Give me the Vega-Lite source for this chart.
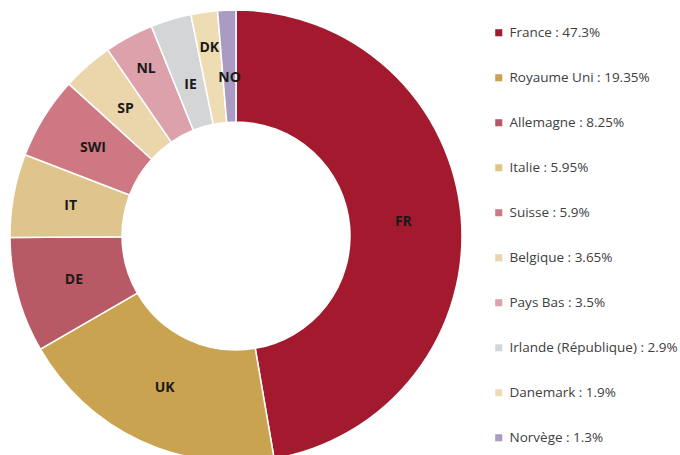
{
  "$schema": "https://vega.github.io/schema/vega-lite/v6.json",
  "width": 472,
  "height": 472,
  "autosize": {"type": "none"},
  "padding": {"left": 0, "top": 0, "right": 208, "bottom": 0},
  "background": "white",
  "config": {"view": {"stroke": null}},
  "data": {
    "values": [
      {"order": 1, "country": "France", "code": "FR", "pct": 47.3, "label": "France : 47.3%"},
      {"order": 2, "country": "Royaume Uni", "code": "UK", "pct": 19.35, "label": "Royaume Uni : 19.35%"},
      {"order": 3, "country": "Allemagne", "code": "DE", "pct": 8.25, "label": "Allemagne : 8.25%"},
      {"order": 4, "country": "Italie", "code": "IT", "pct": 5.95, "label": "Italie : 5.95%"},
      {"order": 5, "country": "Suisse", "code": "SWI", "pct": 5.9, "label": "Suisse : 5.9%"},
      {"order": 6, "country": "Belgique", "code": "SP", "pct": 3.65, "label": "Belgique : 3.65%"},
      {"order": 7, "country": "Pays Bas", "code": "NL", "pct": 3.5, "label": "Pays Bas : 3.5%"},
      {"order": 8, "country": "Irlande (République)", "code": "IE", "pct": 2.9, "label": "Irlande (République) : 2.9%"},
      {"order": 9, "country": "Danemark", "code": "DK", "pct": 1.9, "label": "Danemark : 1.9%"},
      {"order": 10, "country": "Norvège", "code": "NO", "pct": 1.3, "label": "Norvège : 1.3%"}
    ]
  },
  "encoding": {
    "theta": {"field": "pct", "type": "quantitative", "stack": true},
    "order": {"field": "order", "type": "quantitative"}
  },
  "layer": [
    {
      "mark": {"type": "arc", "outerRadius": 226, "innerRadius": 114, "stroke": "white", "strokeWidth": 1.5},
      "encoding": {
        "color": {
          "field": "label",
          "type": "nominal",
          "sort": {"field": "order"},
          "scale": {
            "domain": ["France : 47.3%", "Royaume Uni : 19.35%", "Allemagne : 8.25%", "Italie : 5.95%", "Suisse : 5.9%", "Belgique : 3.65%", "Pays Bas : 3.5%", "Irlande (République) : 2.9%", "Danemark : 1.9%", "Norvège : 1.3%"],
            "range": ["#A3192E", "#C9A34F", "#B85A66", "#DFC48B", "#CD7883", "#EAD6AA", "#DDA1AC", "#D4D5D7", "#EEDDB2", "#A99BC1"]
          },
          "legend": {
            "title": null,
            "orient": "none",
            "legendX": 492,
            "legendY": 26,
            "symbolType": "square",
            "symbolSize": 50,
            "symbolStrokeWidth": 0,
            "rowPadding": 30,
            "labelFont": "Open Sans",
            "labelFontSize": 13.5,
            "labelColor": "#404040",
            "labelLimit": 300,
            "labelOffset": 4
          }
        }
      }
    },
    {
      "mark": {"type": "text", "radius": 168, "font": "Open Sans", "fontWeight": "bold", "fontSize": 14, "color": "#1a1a1a"},
      "encoding": {"text": {"condition": {"test": "indexof(['NL','DK','IE','NO'], datum.code) < 0", "field": "code", "type": "nominal"}, "value": ""}}
    },
    {
      "mark": {"type": "text", "radius": 190, "font": "Open Sans", "fontWeight": "bold", "fontSize": 14, "color": "#1a1a1a"},
      "encoding": {"text": {"condition": {"test": "indexof(['NL','DK'], datum.code) >= 0", "field": "code", "type": "nominal"}, "value": ""}}
    },
    {
      "mark": {"type": "text", "radius": 158, "font": "Open Sans", "fontWeight": "bold", "fontSize": 14, "color": "#1a1a1a"},
      "encoding": {"text": {"condition": {"test": "indexof(['IE','NO'], datum.code) >= 0", "field": "code", "type": "nominal"}, "value": ""}}
    }
  ]
}
